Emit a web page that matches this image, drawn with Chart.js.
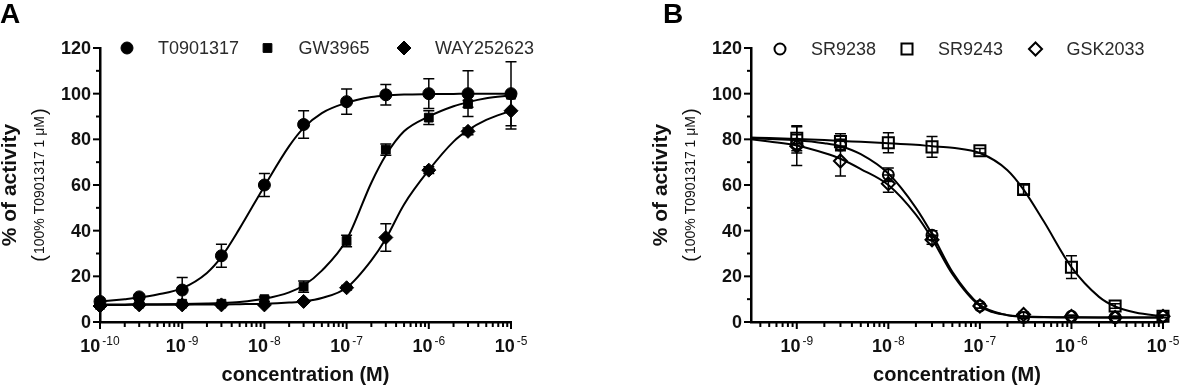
<!DOCTYPE html>
<html>
<head>
<meta charset="utf-8">
<script src="https://cdn.jsdelivr.net/npm/chart.js@4.4.1/dist/chart.umd.min.js"></script>
<style>
    html, body { margin: 0; padding: 0; background: #fff; }
    #wrap { position: relative; width: 1180px; height: 387px; }
    canvas { position: absolute; top: 0; }
</style>
</head>
<body>
<div id="wrap">
    <canvas id="graficoA" width="590" height="387" style="left:0"></canvas>
    <canvas id="graficoB" width="590" height="387" style="left:590px"></canvas>
</div>
<script>
// ---- Painel A: agonistas ----
const concA = [1e-10, 3e-10, 1e-9, 3e-9, 1e-8, 3e-8, 1e-7, 3e-7, 1e-6, 3e-6, 1e-5];
const t0901317 = [9, 11, 14, 29, 60, 86.5, 96.5, 99.5, 100, 100, 100];
const t0901317Err = [1, 1, 5.5, 5, 5, 6, 5.5, 4.5, 6.5, 10, 14];
const gw3965 = [7.5, 8, 8, 8, 10, 15.5, 35.5, 75.5, 89.5, 95.5, 99.5];
const gw3965Err = [0.5, 0.5, 0.5, 0.5, 1, 2.5, 2.5, 2.5, 3, 1.5, 1];
const way252623 = [7, 7.5, 7.5, 7.5, 7.5, 9, 15, 37, 66.5, 83.5, 92.5];
const way252623Err = [0.5, 0.5, 0.5, 0.5, 0.5, 0.5, 1, 6, 1.5, 1.5, 8];

// curvas ajustadas
const curvaConcA = [1e-10, 2e-10, 3e-10, 5e-10, 1e-9, 2e-9, 3e-9, 5e-9, 1e-8, 2e-8, 3e-8, 5e-8, 1e-7, 2e-7, 3e-7, 5e-7, 1e-6, 2e-6, 3e-6, 5e-6, 1e-5];
const curvaT0901317 = [9, 10, 10.7, 12, 14.8, 21.5, 28.5, 41, 59.5, 77, 85, 91.5, 96, 98.5, 99.2, 99.6, 99.8, 99.9, 100, 100, 100];
const curvaGw3965 = [7.7, 7.7, 7.8, 7.8, 7.9, 8.1, 8.3, 8.8, 10.2, 13, 16, 22.5, 36, 61, 73, 83.5, 90, 94.5, 96.3, 98, 99.3];
const curvaWay252623 = [7.5, 7.5, 7.6, 7.6, 7.6, 7.7, 7.7, 7.8, 8, 8.5, 9, 10.5, 15, 27, 36.5, 51.5, 66.5, 79, 84, 88.5, 92.5];

// ---- Painel B: agonistas inversos ----
const concB = [1e-9, 3e-9, 1e-8, 3e-8, 1e-7, 3e-7, 1e-6, 3e-6, 1e-5];
const sr9238 = [78, 77.5, 64.5, 38, 7, 2, 2.5, 2, 2.5];
const sr9238Err = [4, 2.5, 3, 2, 1, 0.5, 0.5, 0.5, 0.5];
const sr9243 = [80.5, 79, 78.5, 76.7, 75, 58, 24, 7, 2.5];
const sr9243Err = [5.5, 3.5, 4.4, 4.5, 1, 2, 5, 1, 0.5];
const gsk2033 = [77, 70.5, 60.6, 36, 7, 3.3, 2.5, 2, 2.5];
const gsk2033Err = [8.5, 6.6, 3.8, 2, 1, 1, 0.5, 0.5, 0.5];

const curvaConcB = [3.1623e-10, 5e-10, 1e-9, 2e-9, 3e-9, 5e-9, 1e-8, 2e-8, 3e-8, 5e-8, 1e-7, 2e-7, 3e-7, 5e-7, 1e-6, 2e-6, 3e-6, 5e-6, 1e-5];
const curvaSr9238 = [80.5, 80.2, 79.6, 78.3, 77, 73.5, 65, 50, 38.5, 22, 7.5, 3, 2.3, 2.1, 2, 2, 2, 2, 2];
const curvaSr9243 = [80.8, 80.6, 80.2, 79.7, 79.3, 78.9, 78.3, 77.6, 77, 76.3, 74, 66.5, 58, 44, 24, 11, 6.8, 4.2, 2.5];
const curvaGsk2033 = [80, 79, 77.3, 74, 71.5, 67, 60, 47, 36.5, 21, 7, 3, 2.5, 2.2, 2.1, 2, 2, 2, 2];

// eixos
const yTicks = [0, 20, 40, 60, 80, 100, 120];
const decadasA = [-10, -9, -8, -7, -6, -5];
const decadasB = [-9, -8, -7, -6, -5];

const FONTE = '"Liberation Sans", Arial, Helvetica, sans-serif';

function pontos(xs, ys) {
    return xs.map((x, i) => ({ x: x, y: ys[i] }));
}

function serieDados(label, xs, ys, erros, estilo, cheio, raio) {
    return {
        label: label,
        data: pontos(xs, ys),
        erros: erros,
        showLine: false,
        pointStyle: estilo,
        pointRadius: raio,
        pointHoverRadius: raio,
        pointBackgroundColor: cheio ? '#000' : 'rgba(0,0,0,0)',
        pointBorderColor: '#000',
        pointBorderWidth: cheio ? 1 : 2,
        clip: false,
        order: 1
    };
}

function serieCurva(xs, ys) {
    return {
        data: pontos(xs, ys),
        showLine: true,
        borderColor: '#000',
        borderWidth: 2,
        pointRadius: 0,
        pointHoverRadius: 0,
        cubicInterpolationMode: 'monotone',
        clip: false,
        order: 2
    };
}

// desenha barras de erro, ticks, rótulos, títulos e legenda
const decoracao = {
    id: 'decoracao',
    beforeDatasetsDraw(chart) {
        const ctx = chart.ctx;
        const ys = chart.scales.y;
        ctx.save();
        ctx.strokeStyle = '#000';
        ctx.lineWidth = 1.5;
        chart.data.datasets.forEach((ds, i) => {
            if (!ds.erros) return;
            const meta = chart.getDatasetMeta(i);
            meta.data.forEach((pt, j) => {
                const v = ds.data[j].y;
                const e = ds.erros[j];
                const yTop = ys.getPixelForValue(v + e);
                const yBot = ys.getPixelForValue(v - e);
                ctx.beginPath();
                ctx.moveTo(pt.x, yTop); ctx.lineTo(pt.x, yBot);
                ctx.moveTo(pt.x - 5.5, yTop); ctx.lineTo(pt.x + 5.5, yTop);
                ctx.moveTo(pt.x - 5.5, yBot); ctx.lineTo(pt.x + 5.5, yBot);
                ctx.stroke();
            });
        });
        ctx.restore();
    },
    afterDraw(chart, args, opts) {
        const ctx = chart.ctx;
        const xs = chart.scales.x;
        const ys = chart.scales.y;
        const area = chart.chartArea;
        ctx.save();
        ctx.strokeStyle = '#000';
        ctx.fillStyle = '#111';
        ctx.lineWidth = 2;

        // ticks do eixo y (menores a cada 10)
        for (let v = 0; v <= 120; v += 10) {
            const py = ys.getPixelForValue(v);
            const len = yTicks.includes(v) ? 7 : 4;
            ctx.beginPath();
            ctx.moveTo(area.left - len, py);
            ctx.lineTo(area.left, py);
            ctx.stroke();
        }
        ctx.font = 'bold 18px ' + FONTE;
        ctx.textAlign = 'right';
        ctx.textBaseline = 'middle';
        yTicks.forEach(v => ctx.fillText(String(v), area.left - 9, ys.getPixelForValue(v) + 1));

        // ticks do eixo x (log)
        const dec = opts.decadas;
        for (let k = 0; k < dec.length; k++) {
            for (let m = 1; m <= 9; m++) {
                if (k === dec.length - 1 && m > 1) break;
                const v = m * Math.pow(10, dec[k]);
                if (v > xs.max * 1.0001) continue;
                const px = xs.getPixelForValue(v);
                const len = m === 1 ? 7 : 5;
                ctx.beginPath();
                ctx.moveTo(px, area.bottom);
                ctx.lineTo(px, area.bottom + len);
                ctx.stroke();
            }
        }
        if (opts.inicioMenores) {
            for (let m = opts.inicioMenores; m <= 9; m++) {
                const px = xs.getPixelForValue(m * Math.pow(10, dec[0] - 1));
                ctx.beginPath();
                ctx.moveTo(px, area.bottom);
                ctx.lineTo(px, area.bottom + 5);
                ctx.stroke();
            }
        }
        ctx.textAlign = 'left';
        ctx.textBaseline = 'alphabetic';
        dec.forEach(d => {
            const px = xs.getPixelForValue(Math.pow(10, d));
            const exp = String(d);
            ctx.font = 'bold 18px ' + FONTE;
            const w1 = ctx.measureText('10').width;
            ctx.font = '12px ' + FONTE;
            const w2 = ctx.measureText(exp).width;
            const x0 = px - (w1 + 2 + w2) / 2;
            ctx.font = 'bold 18px ' + FONTE;
            ctx.fillText('10', x0, area.bottom + 30);
            ctx.font = '12px ' + FONTE;
            ctx.fillText(exp, x0 + w1 + 2, area.bottom + 23);
        });

        // título do eixo x
        ctx.font = 'bold 20px ' + FONTE;
        ctx.textAlign = 'center';
        ctx.fillText('concentration (M)', (area.left + area.right) / 2, area.bottom + 59);

        // título do eixo y (duas linhas, rotacionado)
        const yc = (area.top + area.bottom) / 2;
        ctx.save();
        ctx.translate(area.left - 90, yc);
        ctx.rotate(-Math.PI / 2);
        ctx.font = 'bold 21px ' + FONTE;
        ctx.textAlign = 'center';
        ctx.textBaseline = 'middle';
        ctx.fillText('% of activity', 0, 0);
        ctx.restore();

        ctx.save();
        ctx.translate(area.left - 56, yc);
        ctx.rotate(-Math.PI / 2);
        ctx.textBaseline = 'alphabetic';
        ctx.textAlign = 'left';
        const pequeno = '100% T0901317 1 \u03BCM';
        ctx.font = '20px ' + FONTE;
        const wp = ctx.measureText('(').width;
        ctx.font = '14px ' + FONTE;
        const wt = ctx.measureText(pequeno).width;
        let xx = -(wp * 2 + wt + 2) / 2;
        ctx.font = '20px ' + FONTE;
        ctx.fillText('(', xx, 2);
        ctx.font = '14px ' + FONTE;
        ctx.fillText(pequeno, xx + wp + 1, 0);
        ctx.font = '20px ' + FONTE;
        ctx.fillText(')', xx + wp + wt + 2, 2);
        ctx.restore();

        // legenda dentro da área do gráfico
        let n = 0;
        chart.data.datasets.forEach(ds => {
            if (!ds.label) return;
            const cx = opts.legendaX[n++];
            const cy = area.top + opts.legendaDy;
            ctx.fillStyle = ds.pointBackgroundColor;
            ctx.strokeStyle = '#000';
            ctx.lineWidth = ds.pointBorderWidth;
            Chart.helpers.drawPoint(ctx, {
                pointStyle: ds.pointStyle,
                radius: ds.pointRadius,
                rotation: 0,
                borderWidth: ds.pointBorderWidth
            }, cx, cy);
            ctx.fillStyle = '#2b2b2b';
            ctx.font = '18px ' + FONTE;
            ctx.textAlign = 'left';
            ctx.textBaseline = 'middle';
            ctx.fillText(ds.label, cx + 31, cy + 1);
        });

        // letra do painel
        ctx.fillStyle = '#000';
        ctx.font = 'bold 28px ' + FONTE;
        ctx.textAlign = 'left';
        ctx.textBaseline = 'alphabetic';
        ctx.fillText(opts.letra, opts.letraX, 23);

        ctx.restore();
    }
};

function escalas(xMin, larguraY) {
    return {
        x: {
            type: 'logarithmic',
            min: xMin,
            max: 1e-5,
            grid: { display: false },
            border: { display: true, color: '#000', width: 2.5 },
            ticks: { display: false },
            afterFit: function (scale) { scale.height = 65; }
        },
        y: {
            min: 0,
            max: 120,
            grid: { display: false },
            border: { display: true, color: '#000', width: 2.5 },
            ticks: { display: false },
            afterFit: function (scale) { scale.width = larguraY; }
        }
    };
}

new Chart(document.getElementById('graficoA'), {
    type: 'scatter',
    data: {
        datasets: [
            serieDados('T0901317', concA, t0901317, t0901317Err, 'circle', true, 6),
            serieDados('GW3965', concA, gw3965, gw3965Err, 'rect', true, 6.2),
            serieDados('WAY252623', concA, way252623, way252623Err, 'rectRot', true, 7),
            serieCurva(curvaConcA, curvaT0901317),
            serieCurva(curvaConcA, curvaGw3965),
            serieCurva(curvaConcA, curvaWay252623)
        ]
    },
    options: {
        responsive: false,
        animation: false,
        events: [],
        layout: { padding: { top: 48, right: 79, left: 0, bottom: 0 } },
        scales: escalas(1e-10, 100),
        plugins: {
            legend: { display: false },
            tooltip: { enabled: false },
            decoracao: { decadas: decadasA, legendaX: [127, 267.5, 404], legendaDy: 0, letra: 'A', letraX: 0 }
        }
    },
    plugins: [decoracao]
});

new Chart(document.getElementById('graficoB'), {
    type: 'scatter',
    data: {
        datasets: [
            serieDados('SR9238', concB, sr9238, sr9238Err, 'circle', false, 5.5),
            serieDados('SR9243', concB, sr9243, sr9243Err, 'rect', false, 7.8),
            serieDados('GSK2033', concB, gsk2033, gsk2033Err, 'rectRot', false, 6.5),
            serieCurva(curvaConcB, curvaSr9238),
            serieCurva(curvaConcB, curvaSr9243),
            serieCurva(curvaConcB, curvaGsk2033)
        ]
    },
    options: {
        responsive: false,
        animation: false,
        events: [],
        layout: { padding: { top: 48, right: 17, left: 0, bottom: 0 } },
        scales: escalas(3.1623e-10, 161),
        plugins: {
            legend: { display: false },
            tooltip: { enabled: false },
            decoracao: { decadas: decadasB, inicioMenores: 4, legendaX: [190, 317, 445.5], legendaDy: 1, letra: 'B', letraX: 73 }
        }
    },
    plugins: [decoracao]
});
</script>
</body>
</html>
